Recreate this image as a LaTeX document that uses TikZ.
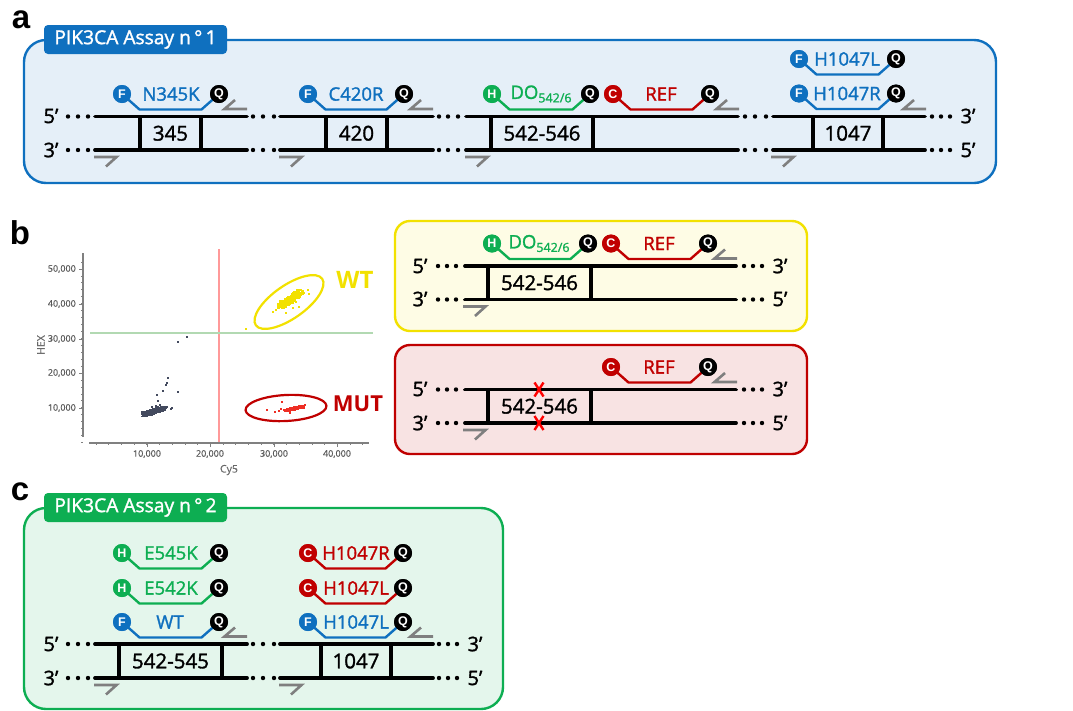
\documentclass[tikz,border=0pt]{standalone}
\usepackage{fontspec}
\setmainfont{Open Sans}
\newfontfamily\medfont[FakeBold=1.5]{Open Sans}
\newfontfamily\plainfont[FakeBold=0.4]{Open Sans}
\newfontfamily\headfont{Liberation Sans}
\usetikzlibrary{shapes.geometric}
\definecolor{cblue}{HTML}{0F70BF}
\definecolor{cgreen}{HTML}{0DAE52}
\definecolor{cred}{HTML}{C00000}
\definecolor{cyel}{HTML}{F2E100}
\definecolor{cgray}{HTML}{7F7F7F}
\definecolor{axisgray}{HTML}{808080}
\definecolor{ticktxt}{HTML}{595959}
\definecolor{dotdark}{HTML}{434A5E}
\definecolor{dotred}{HTML}{EE2E24}
\definecolor{dotyel}{HTML}{F2E100}
\tikzset{
  strand/.style={line width=3.8pt,line cap=round},
  rung/.style={line width=3.6pt},
  primerline/.style={cgray,line width=2.6pt,line join=miter},
  probeline/.style={line width=2.4pt,line join=round},
  dye/.style={circle,minimum size=18pt,inner sep=0pt,text=white,font=\fontsize{12.5}{12}\selectfont\headfont\bfseries},
  quench/.style={dye,fill=black},
  probelabel/.style={inner sep=0pt,font=\fontsize{18.5}{20}\selectfont\medfont},
  seglabel/.style={inner sep=0pt,font=\fontsize{20.5}{22}\selectfont\medfont},
  endlabel/.style={inner sep=0pt,font=\fontsize{20}{22}\selectfont\medfont},
  panelletter/.style={inner sep=0pt,font=\fontsize{33}{33}\selectfont\headfont\bfseries},
  paneltag/.style={rounded corners=4pt,minimum width=183pt,minimum height=29pt,inner sep=0pt,text=white,font=\fontsize{19.2}{20}\selectfont\medfont},
  panelbox/.style={line width=2.4pt,rounded corners=22pt},
  major/.style={axisgray,line width=1pt},
  minor/.style={axisgray,line width=.7pt},
  ticklabel/.style={inner sep=0pt,text=ticktxt,font=\fontsize{9}{9}\selectfont\plainfont},
  axislabel/.style={inner sep=0pt,text=ticktxt,opacity=.85,font=\fontsize{10.5}{10}\selectfont\plainfont},
}
% name, dye letter, colour, x dye, x label, x quencher, y, label
\newcommand{\probe}[8]{%
  \node[dye,fill=#3] (#1d) at (#4,#7) {#2};
  \node[quench] (#1q) at (#6,#7) {Q};
  \coordinate (#1a) at (#4+17.5,#7+15.5);
  \coordinate (#1b) at (#6-17.5,#7+15.5);
  \draw[probeline,#3] (#1d.center) -- (#1a) -- (#1b) -- (#1q.center);
  \node[dye,fill=#3] at (#1d) {#2};
  \node[quench] at (#1q) {Q};
  \node[probelabel,text=#3] (#1l) at (#5,#7) {#8};
}
% name, x1, x2, rung1, rung2, ytop, ybot, label
\newcommand{\seg}[8]{%
  \coordinate (#1tl) at (#2,#6); \coordinate (#1tr) at (#3,#6);
  \coordinate (#1bl) at (#2,#7); \coordinate (#1br) at (#3,#7);
  \coordinate (#1u) at (#4,#6); \coordinate (#1v) at (#4,#7);
  \coordinate (#1w) at (#5,#6); \coordinate (#1z) at (#5,#7);
  \draw[rung] (#1u) -- (#1v);
  \draw[rung] (#1w) -- (#1z);
  \draw[strand] (#1tl) -- (#1tr);
  \draw[strand] (#1bl) -- (#1br);
  \node[seglabel] (#1t) at ({(#4+#5)/2},{(#6+#7)/2}) {#8};
}
% name, right end x (top strand), y of top strand
\newcommand{\revprimer}[3]{%
  \coordinate (#1a) at (#2,#3-7.5);
  \coordinate (#1b) at (#2-22.5,#3-7.5);
  \coordinate (#1c) at (#2-12,#3-16.5);
  \draw[primerline] (#1a) -- (#1b) -- (#1c);
}
% name, left end x, y of bottom strand
\newcommand{\fwdprimer}[3]{%
  \coordinate (#1a) at (#2,#3+7);
  \coordinate (#1b) at (#2+22.5,#3+7);
  \coordinate (#1c) at (#2+12,#3+16.5);
  \draw[primerline] (#1a) -- (#1b) -- (#1c);
}
\newcommand{\gapdots}[4]{%
  \foreach \gx in {#1,#2,#3}{\fill (\gx,#4) circle[radius=2.2pt];}
}
\newcommand{\cluster}[7]{% n x1 y1 x2 y2 spread colour
  \foreach \ci in {1,...,#1}{%
    \pgfmathsetmacro{\ct}{0.5+0.5*rand}%
    \pgfmathsetmacro{\cx}{#2+(#4-#2)*\ct+#6*rand}%
    \pgfmathsetmacro{\cy}{#3+(#5-#3)*\ct+#6*rand*0.8}%
    \fill[#7] (\cx-.9,\cy-.9) rectangle (\cx+.9,\cy+.9);
  }
}
\newcommand{\spots}[2]{%
  \foreach \sx/\sy in {#2}{\fill[#1] (\sx-.8,\sy-.8) rectangle (\sx+.8,\sy+.8);}
}
\newcommand{\dolabel}{DO\raisebox{-3.5pt}{\fontsize{12.5}{12}\selectfont 542/6}}
\begin{document}
\begin{tikzpicture}[x=1pt,y=-1pt]
\useasboundingbox (0,0) rectangle (1073,710);
\fill[white] (0,0) rectangle (1073,710);
\pgfmathsetseed{4217}

% ---------- panel a
\node[panelletter] (la) at (21,20) {a};
\draw[panelbox,draw=cblue,fill=cblue!11] (24,40) rectangle (996,183);
\node[paneltag,fill=cblue] (taga) at (135.5,39.5) {PIK3CA Assay n\,°\,1};
\node[endlabel] (a5l) at (51,116) {5’};
\node[endlabel] (a3l) at (51,150) {3’};
\node[endlabel] (a3r) at (968,116) {3’};
\node[endlabel] (a5r) at (968,150) {5’};
\foreach \yy in {116.5,150}{
  \gapdots{68}{78}{88}{\yy}
  \gapdots{253}{263}{274}{\yy}
  \gapdots{439}{448}{458}{\yy}
  \gapdots{745}{755}{766}{\yy}
  \gapdots{932}{941}{950}{\yy}
}
\seg{a1}{95}{247}{140}{201}{116.5}{150}{345}
\seg{a2}{280}{433}{326}{387}{116.5}{150}{420}
\seg{a3}{466}{738}{491}{593}{116.5}{150}{542-546}
\seg{a4}{773}{925}{813}{883}{116.5}{150}{1047}
\revprimer{ar1}{247}{116.5}
\revprimer{ar2}{433}{116.5}
\revprimer{ar3}{739}{116.5}
\revprimer{ar4}{926}{116.5}
\fwdprimer{af1}{94}{150}
\fwdprimer{af2}{279}{150}
\fwdprimer{af3}{465}{150}
\fwdprimer{af4}{771}{150}
\probe{pa}{F}{cblue}{122}{171}{219}{94}{N345K}
\probe{pb}{F}{cblue}{308}{356}{404}{94}{C420R}
\probe{pc}{H}{cgreen}{492}{541}{590}{94}{\dolabel}
\probe{pd}{C}{cred}{613}{661}{710}{94}{REF}
\probe{pe}{F}{cblue}{799}{847}{896}{59}{H1047L}
\probe{pf}{F}{cblue}{799}{847}{896}{93.5}{H1047R}

% ---------- panel b, plot
\node[panelletter] (lb) at (20,233) {b};
\draw[axisgray,line width=1.1pt] (83,253) -- (83,437);
\draw[axisgray,line width=1.1pt] (89,443) -- (369,443);
\foreach \yt/\yl in {269/50,304/40,339/30,373/20,408/10}{
  \draw[major] (79,\yt) -- (83,\yt);
  \node[ticklabel,anchor=east] at (76,\yt) {\yl,000};
}
\foreach \k in {0,...,26}{ \draw[minor] (81,{262+\k*6.94}) -- (83,{262+\k*6.94}); }
\foreach \xt/\xl in {147/10,210/20,274/30,337/40}{
  \draw[major] (\xt,443) -- (\xt,447);
  \node[ticklabel] at (\xt,454) {\xl,000};
}
\foreach \k in {0,...,21}{ \draw[minor] ({96+\k*12.7},443) -- ({96+\k*12.7},445); }
\node[axislabel,rotate=90] (hex) at (41,345) {HEX};
\node[axislabel] (cy5) at (229,470) {Cy5};
\coordinate (vt) at (219,249); \coordinate (vb) at (219,442);
\coordinate (hl) at (90,333); \coordinate (hr) at (373,333);
\draw[line width=2pt,color=red!40!white] (vt) -- (vb);
\draw[line width=2pt,color=green!50!black!30!white] (hl) -- (hr);
\cluster{450}{143}{414.5}{163}{408.5}{2.8}{dotdark}
\cluster{25}{160}{409}{167}{407}{1.2}{dotdark}
\spots{dotdark}{187/337,178/342,168/378,167/383,166/385,163/391,178/392,157/395,158/401,172/408,171/409,152/407,156/406,160/405}
\cluster{450}{281}{306}{301}{292}{3.6}{dotyel}
\spots{dotyel}{246/329,308/290,309/294,302/293,293/308,299/307,286/313,273/312,276/310,289/305,296/302,300/297}
\cluster{220}{285}{410.5}{304}{406.5}{1.6}{dotred}
\spots{dotred}{282/402,267/410,275/412,281/409,279/411,290/413}
\node[draw=cyel,line width=2.2pt,ellipse,minimum width=81pt,minimum height=33pt,inner sep=0pt,rotate=35] (ewt) at (289,302) {};
\node[draw=cred,line width=2.2pt,ellipse,minimum width=81pt,minimum height=26pt,inner sep=0pt,rotate=3] (emut) at (286,408) {};
\node[inner sep=0pt,text=cyel,font=\fontsize{24}{24}\selectfont\bfseries] (twt) at (355,280) {WT};
\node[inner sep=0pt,text=cred,font=\fontsize{22}{24}\selectfont\bfseries] (tmut) at (358,404) {MUT};

% ---------- panel b, yellow
\draw[panelbox,rounded corners=15pt,draw=cyel,fill=cyel!10] (395,221) rectangle (807,331);
\node[endlabel] (y5l) at (420,266) {5’};
\node[endlabel] (y3l) at (420,299) {3’};
\node[endlabel] (y3r) at (780,266) {3’};
\node[endlabel] (y5r) at (780,299) {5’};
\foreach \yy in {266,299.5}{
  \gapdots{438}{447}{456}{\yy}
  \gapdots{744}{753}{762}{\yy}
}
\seg{y1}{465}{736}{488}{591}{266}{299.5}{542-546}
\revprimer{yr}{737}{266}
\fwdprimer{yf}{463}{299.5}
\probe{yp}{H}{cgreen}{492}{539}{588}{243.5}{\dolabel}
\probe{yq}{C}{cred}{611}{659}{708}{243.5}{REF}

% ---------- panel b, red
\draw[panelbox,rounded corners=15pt,draw=cred,fill=cred!11] (395,345) rectangle (807,454);
\node[endlabel] (r5l) at (420,389) {5’};
\node[endlabel] (r3l) at (420,423) {3’};
\node[endlabel] (r3r) at (780,389) {3’};
\node[endlabel] (r5r) at (780,423) {5’};
\foreach \yy in {389.5,423}{
  \gapdots{438}{447}{456}{\yy}
  \gapdots{744}{753}{762}{\yy}
}
\seg{r1}{465}{736}{488}{591}{389.5}{423}{542-546}
\revprimer{rr}{737}{389.5}
\fwdprimer{rf}{463}{423}
\probe{rq}{C}{cred}{611}{659}{708}{367}{REF}
\foreach \yy in {389.5,423}{
  \draw[red,line width=2.4pt] (534.5,\yy-7) -- (543.5,\yy+7);
  \draw[red,line width=2.4pt] (543.5,\yy-7) -- (534.5,\yy+7);
}

% ---------- panel c
\node[panelletter] (lc) at (20,492) {c};
\draw[panelbox,draw=cgreen,fill=cgreen!11] (24,508) rectangle (503,709);
\node[paneltag,fill=cgreen] (tagc) at (135.5,507.5) {PIK3CA Assay n\,°\,2};
\node[endlabel] (c5l) at (51,644) {5’};
\node[endlabel] (c3l) at (51,678) {3’};
\node[endlabel] (c3r) at (475,644) {3’};
\node[endlabel] (c5r) at (475,678) {5’};
\foreach \yy in {644,678}{
  \gapdots{68}{78}{88}{\yy}
  \gapdots{253}{263}{274}{\yy}
  \gapdots{439}{448}{457}{\yy}
}
\seg{c1}{95}{247}{119}{222}{644}{678}{542-545}
\seg{c2}{280}{433}{321}{391}{644}{678}{1047}
\revprimer{cr1}{247}{644}
\revprimer{cr2}{433}{644}
\fwdprimer{cf1}{94}{678}
\fwdprimer{cf2}{279}{678}
\probe{ca}{H}{cgreen}{122}{171}{219}{553}{E545K}
\probe{cb}{H}{cgreen}{122}{171}{219}{588}{E542K}
\probe{cc}{F}{cblue}{122}{170}{219}{622}{WT}
\probe{cd}{C}{cred}{308}{356}{403}{553}{H1047R}
\probe{ce}{C}{cred}{308}{356}{403}{588}{H1047L}
\probe{cf}{F}{cblue}{308}{356}{403}{622}{H1047L}
\end{tikzpicture}
\end{document}
